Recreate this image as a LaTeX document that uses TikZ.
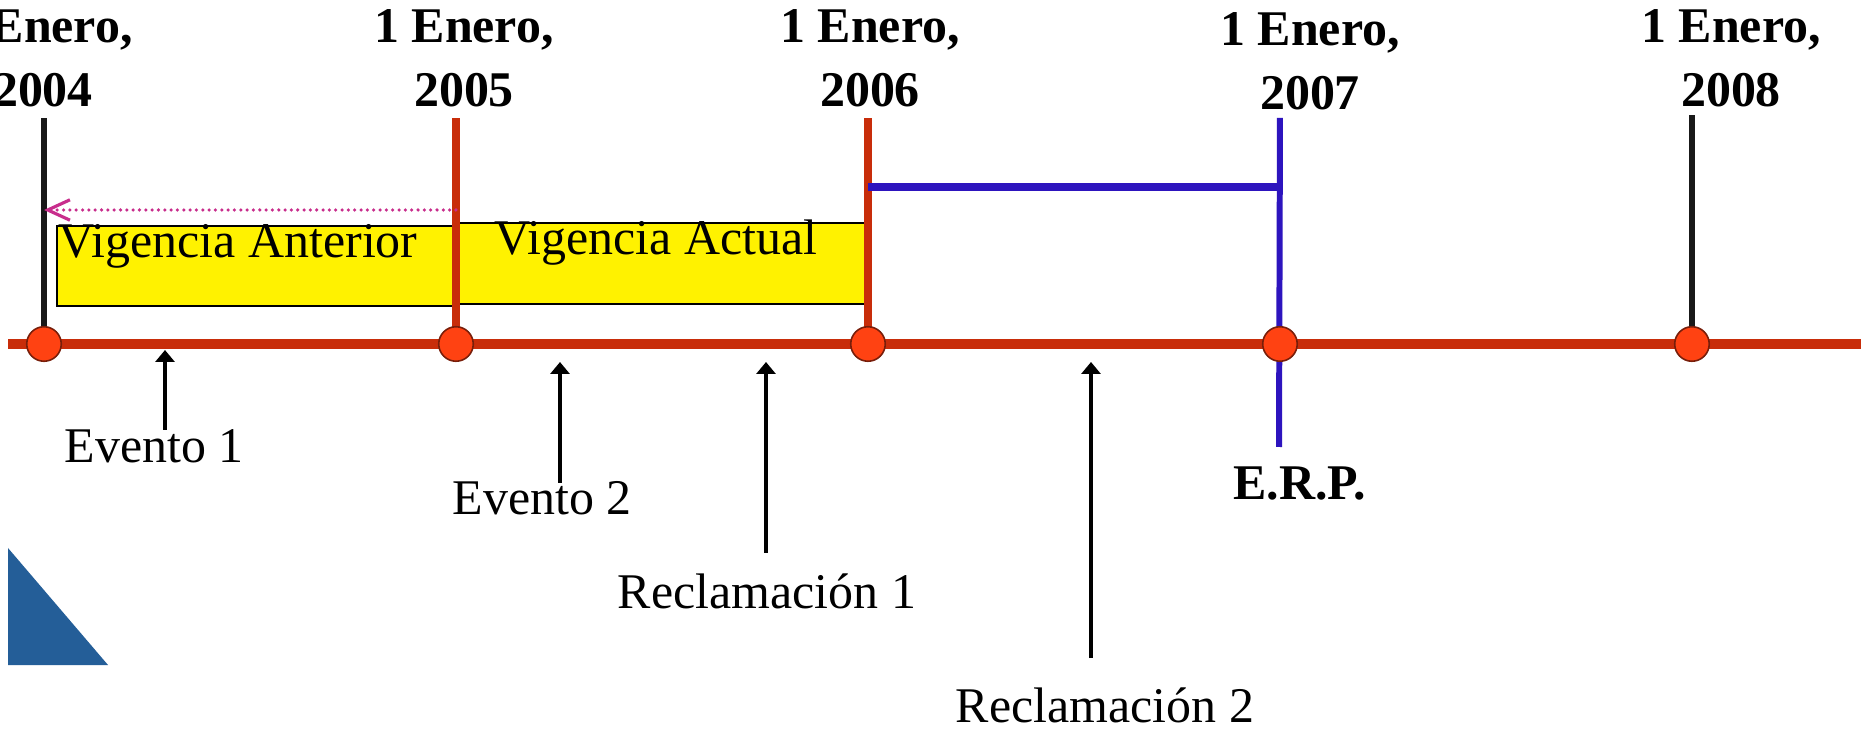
\documentclass[tikz,border=0pt]{standalone}
\usepackage{fontspec}
\setmainfont{Liberation Serif}
\usetikzlibrary{positioning,arrows.meta}

\definecolor{tlred}{RGB}{200,45,10}
\definecolor{dotfill}{RGB}{255,66,18}
\definecolor{dotrim}{RGB}{120,30,10}
\definecolor{erpblue}{RGB}{45,20,190}
\definecolor{pinkarrow}{RGB}{200,45,140}
\definecolor{cornerblue}{RGB}{36,94,152}

\pgfdeclarelayer{background}
\pgfsetlayers{background,main}

\begin{document}
\begin{tikzpicture}[x=0.01cm, y=-0.01cm, node distance=4.1175cm,
    dot/.style={circle, draw=dotrim, fill=dotfill, line width=0.45pt, minimum size=0.345cm, inner sep=0pt},
    yearlbl/.style={align=center, font=\fontsize{14.2}{18.2}\selectfont\bfseries, anchor=base},
    evlbl/.style={font=\fontsize{14.2}{17}\selectfont, anchor=base},
    evarrow/.style={-{Triangle[length=3.4pt,width=5.4pt]}, line width=1.25pt},
    ybox/.style={rectangle, draw=black, fill=yellow, line width=0.45pt, inner sep=0pt, anchor=north west},
    post/.style={line width=1.7pt}]

    \useasboundingbox (0,0) rectangle (1861,731);
    \clip (0,0) rectangle (1861,731);

    % corner of the slide
    \fill[cornerblue] (8,548) -- (8,665) -- (108,665) -- cycle;

    % top of the posts
    \coordinate (top) at (0,118);
    \coordinate (tlstart) at (8,344);
    \coordinate (tlend) at (1870,344);

    % dates on the line
    \node[dot] (d2004) at (44,344) {};
    \node[dot, right of=d2004] (d2005) {};
    \node[dot, right of=d2005] (d2006) {};
    \node[dot, right of=d2006] (d2007) {};
    \node[dot, right of=d2007] (d2008) {};

    \begin{pgfonlayer}{background}
        \fill[white] (0,0) rectangle (1861,731);
        % periods
        \node[ybox, minimum width=3.99cm, minimum height=0.80cm] (vant) at (56,225) {};
        \node[ybox, minimum width=4.11cm, minimum height=0.81cm] (vact) at (456,222) {};
        % timeline
        \draw[tlred, line width=3.1pt] (tlstart) -- (tlend);
        % posts
        \draw[post, black!90] (d2004.center) -- (d2004.center |- top);
        \draw[post, tlred, line width=2pt] (d2005.center) -- (d2005.center |- top);
        \draw[post, tlred, line width=2pt] (d2006.center) -- (d2006.center |- top);
        \coordinate (erpfoot) at (1279,447);
        \draw[post, erpblue] (erpfoot) -- (d2007.center |- top);
        \draw[post, black!90] (d2008.center) -- (d2008.center |- 0,115);
        \draw[erpblue, line width=2pt] (d2006.center |- 0,187) -- (d2007.center |- 0,187);
        \draw[pinkarrow, line width=1pt, dash pattern=on 0pt off 1.8pt, line cap=round,
            -{Straight Barb[length=6.3pt,width=5.8pt,line width=0.9pt,sep=0pt]}]
            (d2005.center |- 0,210) -- (d2004.center |- 0,210);
    \end{pgfonlayer}

    \node[evlbl, anchor=base west, inner sep=0pt] (tvant) at (58,258) {Vigencia Anterior};
    \node[evlbl] (tvact) at (656,255) {Vigencia Actual};

    % dates
    \node[yearlbl] (y2004) at (43,107) {1 Enero,\\2004};
    \node[yearlbl] (y2005) at (464,107) {1 Enero,\\2005};
    \node[yearlbl] (y2006) at (870,107) {1 Enero,\\2006};
    \node[yearlbl] (y2007) at (1310,110) {1 Enero,\\2007};
    \node[yearlbl] (y2008) at (1731,107) {1 Enero,\\2008};

    % events and claims
    \node[evlbl] (ev1) at (154,463) {Evento 1};
    \node[evlbl] (ev2) at (542,515) {Evento 2};
    \node[evlbl] (rec1) at (767,608) {Reclamación 1};
    \node[evlbl] (rec2) at (1105,722) {Reclamación 2};
    \node[evlbl, font=\fontsize{14.2}{17}\selectfont\bfseries] (erp) at (1300,500) {E.R.P.};

    \coordinate (ev1foot) at (165,430);
    \coordinate (ev2foot) at (560,483);
    \coordinate (rec1foot) at (766,553);
    \coordinate (rec2foot) at (1091,658);
    \draw[evarrow] (ev1foot) -- (ev1foot |- 0,350);
    \draw[evarrow] (ev2foot) -- (ev2foot |- 0,362);
    \draw[evarrow] (rec1foot) -- (rec1foot |- 0,362);
    \draw[evarrow] (rec2foot) -- (rec2foot |- 0,362);
\end{tikzpicture}
\end{document}
